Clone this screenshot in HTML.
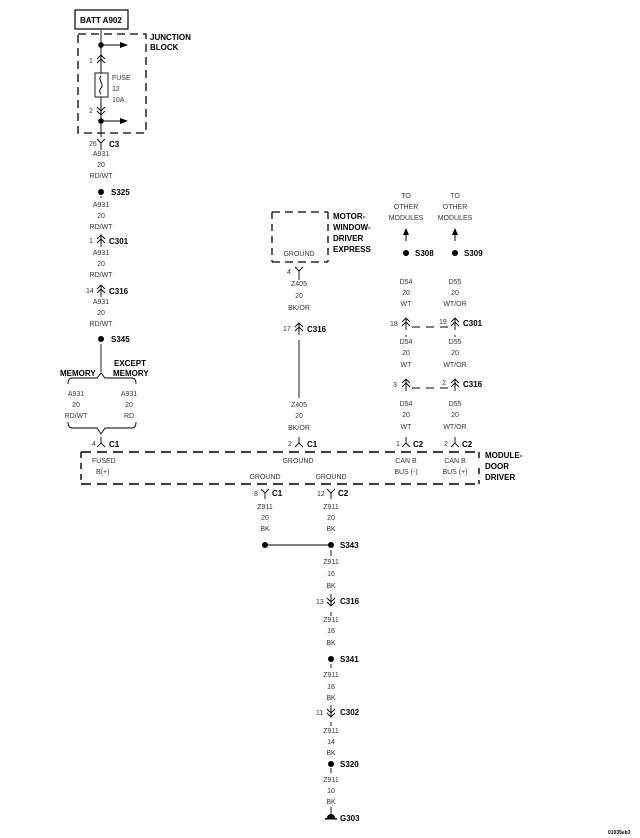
<!DOCTYPE html>
<html><head><meta charset="utf-8"><style>
html,body{margin:0;padding:0;background:#fff}
svg{display:block}
text{font-family:"Liberation Sans",sans-serif}
.s{font-size:7px;fill:#333;text-anchor:middle}
.sl{font-size:7px;fill:#333}
.b{font-size:8px;font-weight:bold;fill:#000}
</style></head><body>
<svg width="640" height="838" viewBox="0 0 640 838" xmlns="http://www.w3.org/2000/svg">
<defs>
<g id="dup" fill="none" stroke="#000" stroke-width="0.9"><path d="M-4,-1 L0,-5 L4,-1 M-4,3 L0,-1 L4,3 M0,-5 V7"/></g>
<g id="ddn" fill="none" stroke="#000" stroke-width="0.9"><path d="M-4,1 L0,5 L4,1 M-4,-3 L0,1 L4,-3 M0,-7 V5"/></g>
<g id="yd" fill="none" stroke="#000" stroke-width="0.9"><path d="M-4,-4 L0,0 L4,-4 M0,0 V6"/></g>
<g id="lam" fill="none" stroke="#000" stroke-width="0.9"><path d="M0,-6 V0 M-4,4 L0,0 L4,4"/></g>
</defs>
<g stroke="#000" fill="none">
<!-- left wire -->
<rect x="75" y="10" width="53" height="19" stroke-width="1.2"/>
<rect x="78" y="34" width="68" height="99" stroke-dasharray="8,5" stroke-width="1.3"/>
<path d="M101,30 V73 M101,97 V137 M101,148 V150 M101,196 V198 M101,344 V372" stroke-width="0.9"/>
<rect x="95" y="73" width="13" height="24" stroke-width="0.9"/>
<path d="M101,76 C97,80 105,84 101,88 C98,91 101,94 101,94" stroke-width="0.9"/>
<path d="M101,45 H120 M101,121 H120" stroke-width="1"/>
<!-- braces -->
<path d="M68,384 Q68,378 72,378 H97 L101,373 L105,378 H132 Q136,378 136,384" stroke-width="0.9"/>
<path d="M68,422 Q68,428 72,428 H97 L101,434 L105,428 H132 Q136,428 136,422" stroke-width="0.9"/>
<!-- module box -->
<path d="M81,452 H479 M81,484 H479" stroke-dasharray="10,6" stroke-width="1.4"/>
<path d="M81,452 V484" stroke-dasharray="6,5" stroke-width="1.4"/>
<path d="M479,452 V458 M479,468 V474 M479,480 V484" stroke-width="1.4"/>
<!-- motor box -->
<path d="M272,212 H328 M272,262 H328" stroke-dasharray="8,5" stroke-width="1.3"/>
<path d="M272,212 V262 M328,212 V262" stroke-dasharray="7,5" stroke-width="1.3"/>
<path d="M299,277 V280 M299,340 V398" stroke-width="0.9"/>
<!-- Z911 -->
<path d="M265,545 H331" stroke-width="1"/>
<path d="M331,550 V556 M331,612 V616 M331,664 V668 M331,722 V726 M331,768 V773 M331,807 V814" stroke-width="0.9"/>
<!-- right -->
<path d="M406,335 V337 M455,335 V337" stroke-width="0.9"/>
<path d="M412,327 H450 M412,388 H450" stroke-dasharray="8,6" stroke-width="0.9"/>
</g>
<g fill="#000">
<circle cx="101" cy="45" r="2.8"/><circle cx="101" cy="121" r="2.8"/>
<path d="M120,42 L128,45 L120,48Z M120,118 L128,121 L120,124Z"/>
<circle cx="101" cy="192" r="3"/><circle cx="101" cy="339" r="3"/>
<circle cx="265" cy="545" r="3"/><circle cx="331" cy="545" r="3"/>
<circle cx="331" cy="659" r="3"/><circle cx="331" cy="764" r="3"/>
<circle cx="406" cy="253" r="3"/><circle cx="455" cy="253" r="3"/>
<path d="M406,228 L403,235 L409,235Z M455,228 L452,235 L458,235Z"/>
<rect x="405.5" y="235" width="1" height="6"/><rect x="454.5" y="235" width="1" height="6"/>
<path d="M327,818 a4,4 0 0 1 8,0Z"/><rect x="325" y="818" width="12" height="1.5"/>
</g>
<!-- connectors -->
<use href="#dup" x="101" y="60"/>
<use href="#ddn" x="101" y="110"/>
<use href="#yd" x="101" y="143"/>
<use href="#dup" x="101" y="240"/>
<use href="#dup" x="101" y="290"/>
<use href="#lam" x="101" y="443"/>
<use href="#yd" x="299" y="271"/>
<use href="#dup" x="299" y="328"/>
<use href="#lam" x="299" y="443"/>
<use href="#yd" x="265" y="493"/>
<use href="#yd" x="331" y="493"/>
<use href="#ddn" x="331" y="601"/>
<use href="#ddn" x="331" y="712"/>
<use href="#dup" x="406" y="323"/>
<use href="#dup" x="455" y="323"/>
<use href="#dup" x="406" y="384"/>
<use href="#dup" x="455" y="384"/>
<use href="#lam" x="406" y="443"/>
<use href="#lam" x="455" y="443"/>

<text class="b" x="80" y="23">BATT A902</text>
<text class="b" x="150" y="40">JUNCTION</text>
<text class="b" x="150" y="50">BLOCK</text>
<text class="sl" x="89" y="63">1</text>
<text class="sl" x="89" y="113">2</text>
<text class="sl" x="112" y="80">FUSE</text>
<text class="sl" x="112" y="91">12</text>
<text class="sl" x="112" y="102">10A</text>
<text class="sl" x="89" y="146">26</text><text class="b" x="109" y="147">C3</text>
<text class="s" x="101" y="156">A931</text><text class="s" x="101" y="167">20</text><text class="s" x="101" y="178">RD/WT</text>
<text class="b" x="111" y="195">S325</text>
<text class="s" x="101" y="207">A931</text><text class="s" x="101" y="218">20</text><text class="s" x="101" y="229">RD/WT</text>
<text class="sl" x="89" y="243">1</text><text class="b" x="109" y="244">C301</text>
<text class="s" x="101" y="255">A931</text><text class="s" x="101" y="266">20</text><text class="s" x="101" y="277">RD/WT</text>
<text class="sl" x="86" y="293">14</text><text class="b" x="109" y="294">C316</text>
<text class="s" x="101" y="304">A931</text><text class="s" x="101" y="315">20</text><text class="s" x="101" y="326">RD/WT</text>
<text class="b" x="111" y="342">S345</text>
<text class="b" x="60" y="376">MEMORY</text>
<text class="b" x="114" y="366">EXCEPT</text>
<text class="b" x="113" y="376">MEMORY</text>
<text class="s" x="76" y="396">A931</text><text class="s" x="76" y="407">20</text><text class="s" x="76" y="418">RD/WT</text>
<text class="s" x="129" y="396">A931</text><text class="s" x="129" y="407">20</text><text class="s" x="129" y="418">RD</text>
<text class="sl" x="92" y="446">4</text><text class="b" x="109" y="447">C1</text>
<text class="sl" x="92" y="463">FUSED</text><text class="sl" x="96" y="474">B(+)</text>
<text class="b" x="333" y="219">MOTOR-</text>
<text class="b" x="333" y="230">WINDOW-</text>
<text class="b" x="333" y="241">DRIVER</text>
<text class="b" x="333" y="252">EXPRESS</text>
<text class="s" x="299" y="256">GROUND</text>
<text class="sl" x="287" y="274">4</text>
<text class="s" x="299" y="286">Z405</text><text class="s" x="299" y="298">20</text><text class="s" x="299" y="310">BK/OR</text>
<text class="sl" x="283" y="331">17</text><text class="b" x="307" y="332">C316</text>
<text class="s" x="299" y="407">Z405</text><text class="s" x="299" y="418">20</text><text class="s" x="299" y="430">BK/OR</text>
<text class="sl" x="288" y="446">2</text><text class="b" x="307" y="447">C1</text>
<text class="s" x="298" y="463">GROUND</text>
<text class="s" x="265" y="479">GROUND</text><text class="s" x="331" y="479">GROUND</text>
<text class="sl" x="254" y="496">8</text><text class="b" x="272" y="496">C1</text>
<text class="sl" x="317" y="496">12</text><text class="b" x="338" y="496">C2</text>
<text class="s" x="265" y="509">Z911</text><text class="s" x="265" y="520">20</text><text class="s" x="265" y="531">BK</text>
<text class="s" x="331" y="509">Z911</text><text class="s" x="331" y="520">20</text><text class="s" x="331" y="531">BK</text>
<text class="b" x="340" y="548">S343</text>
<text class="s" x="331" y="564">Z911</text><text class="s" x="331" y="576">16</text><text class="s" x="331" y="588">BK</text>
<text class="sl" x="316" y="604">13</text><text class="b" x="340" y="604">C316</text>
<text class="s" x="331" y="622">Z911</text><text class="s" x="331" y="633">16</text><text class="s" x="331" y="645">BK</text>
<text class="b" x="340" y="662">S341</text>
<text class="s" x="331" y="677">Z911</text><text class="s" x="331" y="689">16</text><text class="s" x="331" y="700">BK</text>
<text class="sl" x="316" y="715">11</text><text class="b" x="340" y="715">C302</text>
<text class="s" x="331" y="733">Z911</text><text class="s" x="331" y="744">14</text><text class="s" x="331" y="755">BK</text>
<text class="b" x="340" y="767">S320</text>
<text class="s" x="331" y="782">Z911</text><text class="s" x="331" y="793">10</text><text class="s" x="331" y="804">BK</text>
<text class="b" x="340" y="821">G303</text>
<text class="s" x="406" y="198">TO</text><text class="s" x="406" y="209">OTHER</text><text class="s" x="406" y="220">MODULES</text>
<text class="s" x="455" y="198">TO</text><text class="s" x="455" y="209">OTHER</text><text class="s" x="455" y="220">MODULES</text>
<text class="b" x="415" y="256">S308</text><text class="b" x="464" y="256">S309</text>
<text class="s" x="406" y="284">D54</text><text class="s" x="406" y="295">20</text><text class="s" x="406" y="306">WT</text>
<text class="s" x="455" y="284">D55</text><text class="s" x="455" y="295">20</text><text class="s" x="455" y="306">WT/OR</text>
<text class="sl" x="390" y="326">18</text><text class="sl" x="439" y="324">19</text><text class="b" x="463" y="326">C301</text>
<text class="s" x="406" y="344">D54</text><text class="s" x="406" y="355">20</text><text class="s" x="406" y="367">WT</text>
<text class="s" x="455" y="344">D55</text><text class="s" x="455" y="355">20</text><text class="s" x="455" y="367">WT/OR</text>
<text class="sl" x="393" y="387">3</text><text class="sl" x="442" y="385">2</text><text class="b" x="463" y="387">C316</text>
<text class="s" x="406" y="406">D54</text><text class="s" x="406" y="417">20</text><text class="s" x="406" y="429">WT</text>
<text class="s" x="455" y="406">D55</text><text class="s" x="455" y="417">20</text><text class="s" x="455" y="429">WT/OR</text>
<text class="sl" x="396" y="446">1</text><text class="b" x="413" y="447">C2</text>
<text class="sl" x="444" y="446">2</text><text class="b" x="462" y="447">C2</text>
<text class="s" x="406" y="463">CAN B</text><text class="s" x="406" y="474">BUS (-)</text>
<text class="s" x="455" y="463">CAN B</text><text class="s" x="455" y="474">BUS (+)</text>
<text class="b" x="485" y="458">MODULE-</text>
<text class="b" x="485" y="469">DOOR</text>
<text class="b" x="485" y="480">DRIVER</text>
<text x="608" y="834" style="font-size:5px;font-weight:bold">01035eb3</text>
</svg>
</body></html>
